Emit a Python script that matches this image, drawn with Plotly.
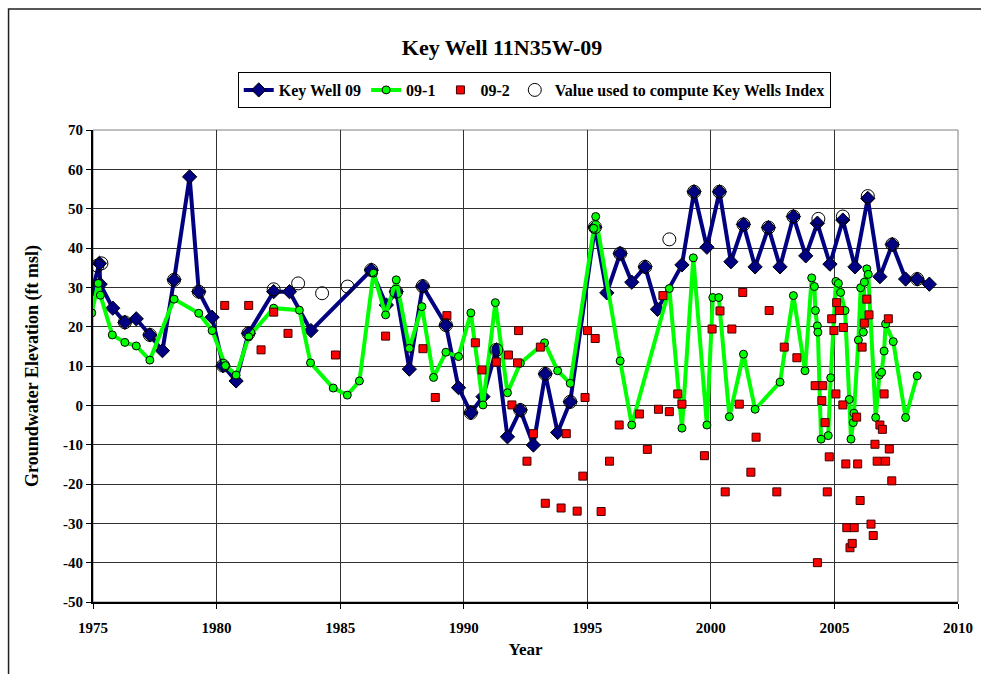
import plotly.graph_objects as go

# ---------------- data ----------------
kw_years = [1974.98, 1975.26, 1975.29, 1975.80, 1976.29, 1976.75, 1977.30, 1977.81, 1978.28, 1978.91,
            1979.28, 1979.82, 1980.26, 1980.79, 1981.29, 1982.31, 1982.95, 1983.82, 1986.26, 1986.87,
            1987.27, 1987.80, 1988.34, 1989.28, 1989.79, 1990.29, 1990.78, 1991.32, 1991.77, 1992.29,
            1992.82, 1993.30, 1993.80, 1994.31, 1995.31, 1995.79, 1996.33, 1996.80, 1997.34, 1997.84,
            1998.83, 1999.32, 1999.84, 2000.35, 2000.81, 2001.32, 2001.79, 2002.33, 2002.80, 2003.34,
            2003.84, 2004.31, 2004.82, 2005.34, 2005.83, 2006.35, 2006.84, 2007.34, 2007.88, 2008.35,
            2008.84]
kw_values = [29.5, 36.1, 30.8, 24.7, 21.1, 22.0, 17.9, 13.9, 31.9, 58.1,
             28.9, 22.4, 10.1, 6.2, 18.3, 28.9, 28.9, 19.0, 34.4, 25.5,
             28.9, 9.2, 30.3, 20.4, 4.5, -1.9, 2.2, 14.1, -8.0, -1.2,
             -10.1, 8.0, -6.9, 0.9, 45.3, 28.6, 38.6, 31.3, 35.2, 24.4,
             35.7, 54.3, 40.2, 54.3, 36.5, 46.0, 35.2, 45.2, 35.2, 48.0,
             38.0, 46.3, 35.9, 47.1, 35.2, 52.6, 32.7, 40.9, 32.1, 32.1,
             30.8]

w1_years = [1974.95, 1975.21, 1975.30, 1975.78, 1976.29, 1976.75, 1977.30, 1978.28, 1979.28, 1979.82,
            1980.36, 1980.79, 1981.30, 1982.31, 1983.35, 1983.80, 1984.72, 1985.29, 1985.78, 1986.35,
            1986.84, 1987.27, 1987.80, 1988.31, 1988.78, 1989.28, 1989.79, 1990.29, 1990.78, 1991.28,
            1991.77, 1992.29, 1993.27, 1993.80, 1994.31, 1995.26, 1995.34, 1996.33, 1996.80, 1998.32,
            1998.83, 1999.29, 1999.84, 2000.08, 2000.32, 2000.75, 2001.32, 2001.79, 2002.80, 2003.34,
            2003.81, 2004.08, 2004.19, 2004.23, 2004.31, 2004.33, 2004.46, 2004.75, 2004.85, 2005.06,
            2005.16, 2005.25, 2005.43, 2005.60, 2005.67, 2005.76, 2005.79, 2005.97, 2006.06, 2006.17,
            2006.21, 2006.31, 2006.37, 2006.67, 2006.82, 2006.91, 2007.01, 2007.07, 2007.38, 2007.88,
            2008.35]
w1_values = [23.5, 31.0, 28.0, 17.9, 16.0, 15.1, 11.5, 27.0, 23.4, 19.0,
             10.1, 7.7, 17.4, 24.7, 24.2, 10.8, 4.4, 2.6, 6.2, 33.6,
             23.0, 31.9, 14.5, 25.1, 7.1, 13.5, 12.4, 23.5, 0.1, 26.1,
             3.2, 10.7, 15.9, 8.8, 5.6, 45.0, 48.0, 11.3, -5.0, 29.7,
             -5.8, 37.5, -5.0, 27.4, 27.4, -2.9, 13.0, -1.0, 5.9, 27.9,
             8.8, 32.4, 30.2, 24.1, 20.2, 18.6, -8.6, -7.7, 7.0, 31.5,
             31.0, 28.7, 24.1, 1.5, -8.6, -4.4, -2.0, 16.6, 29.9, 18.6,
             31.3, 34.7, 33.3, -3.1, 7.7, 8.4, 13.8, 20.7, 16.2, -3.1,
             7.5]

w2_years = [1980.33, 1981.30, 1981.80, 1982.31, 1982.89, 1984.81, 1986.84, 1988.35, 1988.85, 1989.32,
            1990.47, 1990.74, 1991.32, 1991.81, 1991.95, 1992.18, 1992.22, 1992.56, 1992.82, 1993.10,
            1993.30, 1993.94, 1994.15, 1994.59, 1994.82, 1994.91, 1995.01, 1995.32, 1995.56, 1995.90,
            1996.29, 1997.11, 1997.43, 1997.88, 1998.06, 1998.32, 1998.66, 1998.83, 1999.74, 2000.05,
            2000.37, 2000.58, 2000.85, 2001.15, 2001.29, 2001.62, 2001.83, 2002.36, 2002.67, 2002.97,
            2003.48, 2004.22, 2004.31, 2004.49, 2004.53, 2004.62, 2004.71, 2004.79, 2004.89, 2004.98,
            2005.06, 2005.09, 2005.20, 2005.34, 2005.36, 2005.46, 2005.50, 2005.63, 2005.72, 2005.80,
            2005.90, 2005.94, 2006.04, 2006.12, 2006.21, 2006.31, 2006.40, 2006.48, 2006.57, 2006.64,
            2006.73, 2006.84, 2006.94, 2007.01, 2007.07, 2007.18, 2007.22, 2007.32]
w2_values = [25.4, 25.4, 14.1, 23.7, 18.3, 12.8, 17.6, 14.4, 2.0, 22.8,
             15.9, 9.0, 11.0, 12.8, 0.1, 10.8, 19.0, -14.2, -7.2, 14.8,
             -24.9, -26.1, -7.2, -26.9, -18.0, 2.0, 19.0, 17.0, -27.0, -14.2,
             -5.0, -2.2, -11.2, -1.0, 27.9, -1.6, 2.9, 0.3, -12.8, 19.4,
             24.0, -22.0, 19.4, 0.3, 28.7, -17.0, -8.1, 24.1, -22.0, 14.8,
             12.1, 5.0, -40.0, 1.2, 5.0, -4.4, -22.0, -13.1, 22.0, 19.0,
             2.9, 26.1, 24.1, 0.1, 19.8, -14.9, -31.1, -36.2, -35.1, -31.1,
             -3.0, -14.9, -24.2, 14.8, 20.9, 27.0, 23.0, -30.2, -33.1, -9.9,
             -14.2, -5.0, -6.1, 2.9, -14.2, 22.0, -11.1, -19.2]

idx_years = [1975.18, 1975.34, 1976.29, 1977.30, 1978.28, 1979.28, 1980.26, 1981.29, 1982.31, 1983.30,
             1984.27, 1985.30, 1986.26, 1987.27, 1988.34, 1989.28, 1990.29, 1991.32, 1992.29, 1993.30,
             1994.31, 1995.31, 1996.33, 1997.34, 1998.32, 1999.32, 2000.35, 2001.32, 2002.33, 2003.34,
             2004.35, 2005.34, 2006.35, 2007.34, 2008.35]
idx_values = [35.5, 36.1, 21.1, 17.9, 31.9, 28.9, 10.1, 18.3, 29.5, 31.0,
              28.5, 30.2, 34.4, 28.9, 30.3, 20.4, -1.9, 14.1, -1.2, 8.0,
              0.9, 45.3, 38.6, 35.2, 42.2, 54.3, 54.3, 46.0, 45.2, 48.0,
              47.4, 48.0, 53.2, 40.9, 32.1]

x_ticks = [1975, 1980, 1985, 1990, 1995, 2000, 2005, 2010]
y_ticks = [-50, -40, -30, -20, -10, 0, 10, 20, 30, 40, 50, 60, 70]

FONT = "Liberation Serif"

fig = go.Figure()
fig.add_trace(go.Scatter(
    x=kw_years, y=kw_values, name="Key Well 09", mode="lines+markers",
    line=dict(color="#000080", width=4),
    marker=dict(symbol="diamond", size=11, color="#000080", line=dict(color="#000000", width=1)),
))
fig.add_trace(go.Scatter(
    x=w1_years, y=w1_values, name="09-1", mode="lines+markers",
    line=dict(color="#00FF00", width=4),
    marker=dict(symbol="circle", size=8, color="#00FF00", line=dict(color="#000000", width=1)),
))
fig.add_trace(go.Scatter(
    x=w2_years, y=w2_values, name="09-2", mode="markers",
    marker=dict(symbol="square", size=8, color="#FF0000", line=dict(color="#400000", width=1)),
))
fig.add_trace(go.Scatter(
    x=idx_years, y=idx_values, name="Value used to compute Key Wells Index", mode="markers",
    marker=dict(symbol="circle-open", size=13, color="#000000", line=dict(color="#000000", width=1)),
))

W, H = 981, 674
L, R, T, B = 92.5, 23, 130, 72
pw = W - L - R
ph = H - T - B

def px_to_paper_x(px):
    return (px - L) / pw

def px_to_paper_y(py):
    return (H - B - py) / ph

fig.update_layout(
    width=W, height=H,
    margin=dict(l=L, r=R, t=T, b=B, autoexpand=False),
    paper_bgcolor="white", plot_bgcolor="white",
    font=dict(family=FONT, size=15, color="#000000", weight="bold"),
    title=dict(text="Key Well 11N35W-09", x=502 / W, xref="container", xanchor="center",
               y=1 - 47 / H, yref="container", yanchor="middle",
               font=dict(family=FONT, size=22, color="#000000", weight="bold")),
    showlegend=True,
    legend=dict(orientation="h", x=px_to_paper_x(534), y=px_to_paper_y(90),
                xanchor="center", yanchor="middle",
                bordercolor="#000000", borderwidth=1, bgcolor="white",
                font=dict(family=FONT, size=16, color="#000000", weight="bold"),
                itemwidth=30, tracegroupgap=0),
    xaxis=dict(range=[1975, 2010], tickmode="array", tickvals=x_ticks,
               ticktext=[str(v) for v in x_ticks],
               tickfont=dict(family=FONT, size=15, weight="bold"),
               ticklabelstandoff=6,
               showgrid=True, gridcolor="#303030", gridwidth=1,
               showline=True, linecolor="#000000", linewidth=2, mirror=False,
               ticks="outside", ticklen=5, tickcolor="#000000",
               zeroline=False,
               title=dict(text="Year", standoff=8, font=dict(family=FONT, size=17, weight="bold"))),
    yaxis=dict(range=[-50, 70], tickmode="array", tickvals=y_ticks,
               ticktext=[str(v) for v in y_ticks],
               tickfont=dict(family=FONT, size=15, weight="bold"),
               showgrid=True, gridcolor="#303030", gridwidth=1,
               showline=True, linecolor="#000000", linewidth=2,
               ticks="outside", ticklen=5, tickcolor="#000000",
               zeroline=False,
               title=dict(text="Groundwater Elevation (ft msl)", standoff=20,
                          font=dict(family=FONT, size=18, weight="bold"))),
    shapes=[
        dict(type="rect", xref="paper", yref="paper",
             x0=px_to_paper_x(8), x1=px_to_paper_x(995),
             y0=px_to_paper_y(690), y1=px_to_paper_y(9),
             line=dict(color="#202020", width=1.5), fillcolor="rgba(0,0,0,0)", layer="below"),
        dict(type="rect", xref="paper", yref="paper", x0=0, x1=1, y0=0, y1=1,
             line=dict(color="#808080", width=1), fillcolor="rgba(0,0,0,0)", layer="below"),
    ],
)

fig.write_html(
    "out.html",
    config={"displayModeBar": False},
    post_script="document.body.style.margin='0';document.body.style.overflow='hidden';",
)
